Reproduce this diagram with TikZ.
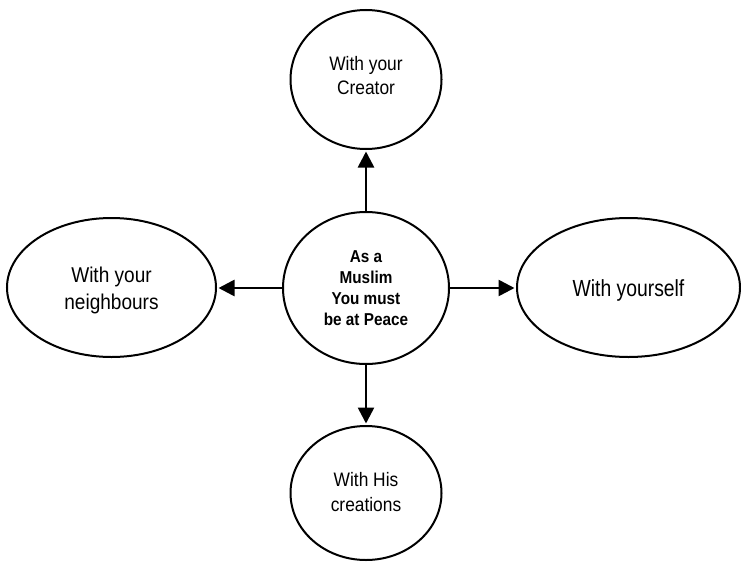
\documentclass[tikz,border=0pt]{standalone}
\usepackage{fontspec}
\usetikzlibrary{shapes.geometric,arrows.meta}
\newfontfamily\fnarrow[FakeStretch=0.89]{Liberation Sans}
\newfontfamily\fnarrower[FakeStretch=0.83]{Liberation Sans}
\tikzset{
  bubble/.style={ellipse, draw=black, line width=2pt, inner sep=0pt, fill=white},
  caption/.style={align=center, inner sep=0pt},
  link/.style={line width=2.6pt, -{Triangle[length=16pt,width=16pt]}, shorten >=1.5pt}
}
\begin{document}
\begin{tikzpicture}[x=1pt,y=-1pt]
\useasboundingbox (0,0) rectangle (741,562);
\node[bubble, minimum width=166pt, minimum height=152pt] (c) at (366,288) {};
\node[caption, font={\fnarrow\bfseries\fontsize{17.2}{21}\selectfont}] (ct) at (c.center)
      {As a\\Muslim\\You must\\be at Peace};
\node[bubble, minimum width=151pt, minimum height=139pt] (t) at (366,79.5) {};
\node[caption, font={\fnarrow\fontsize{19.5}{24.7}\selectfont}] (tt) at ([yshift=4pt]t.center)
      {With your\\Creator};
\node[bubble, minimum width=151pt, minimum height=134pt] (b) at (366,493) {};
\node[caption, font={\fnarrow\fontsize{19.5}{24.7}\selectfont}] (bt) at ([yshift=1pt]b.center)
      {With His\\creations};
\node[bubble, minimum width=209pt, minimum height=139pt] (l) at (111.5,287.5) {};
\node[caption, font={\fnarrow\fontsize{21.4}{27.5}\selectfont}] (lt) at ([yshift=-3pt]l.center)
      {With your\\neighbours};
\node[bubble, minimum width=223pt, minimum height=139pt] (r) at (628.5,287.5) {};
\node[caption, font={\fnarrower\fontsize{23.3}{28}\selectfont}] (rt) at ([yshift=-3pt]r.center)
      {With yourself};
\draw[link] (c.north) -- (c.north |- t.south);
\draw[link] (c.south) -- (c.south |- b.north);
\draw[link] (c.west) -- (c.west -| l.east);
\draw[link] (c.east) -- (c.east -| r.west);
\end{tikzpicture}
\end{document}
